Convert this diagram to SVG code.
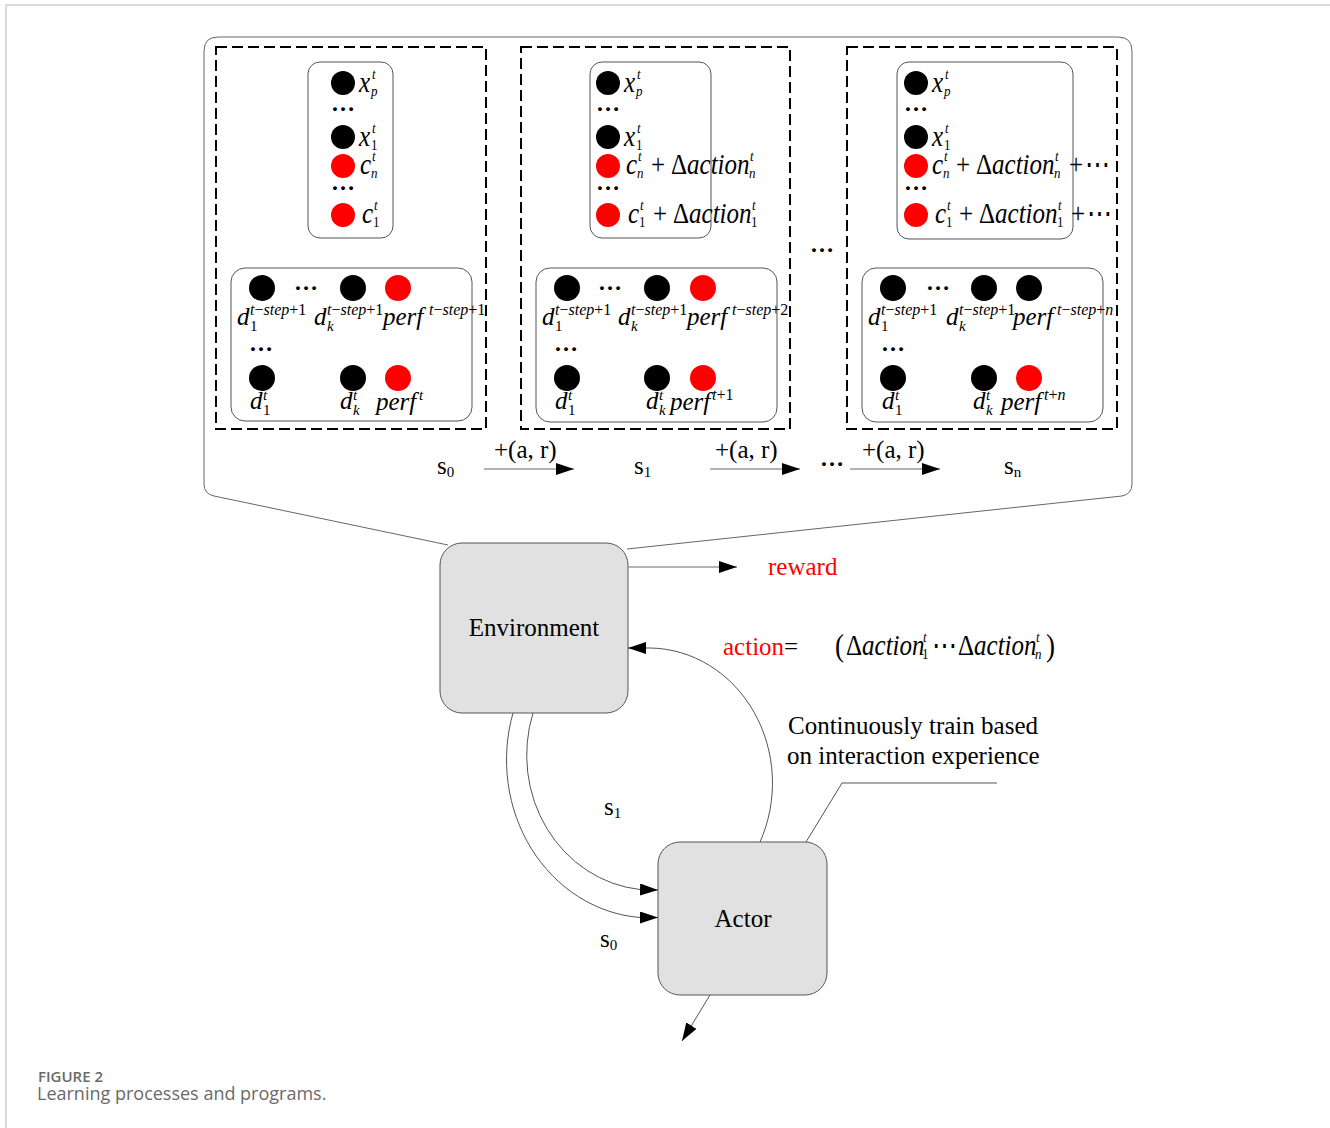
<svg xmlns="http://www.w3.org/2000/svg" width="1330" height="1128" viewBox="0 0 1330 1128">
<style>
.m{font-family:"Liberation Serif","DejaVu Serif",serif;font-style:italic;font-size:25px;fill:#000}
.u{font-style:normal}
.s{font-size:15px}
.q{font-size:13px}
.sp{font-size:16px}
.t{font-family:"Liberation Serif","DejaVu Serif",serif;font-size:25px;fill:#000}
.red{fill:#ff0000}
.dots{font-family:"Liberation Serif",serif;font-size:24px;font-weight:bold;fill:#000}
.dash{fill:none;stroke:#000;stroke-width:2;stroke-dasharray:11 5}
.ibox{fill:#fff;stroke:#555;stroke-width:1}
.node{fill:#e1e1e1;stroke:#555;stroke-width:1}
.bk{fill:#000}
.rd{fill:#ff0000}
.ln{fill:none;stroke:#555;stroke-width:1}
.ga{fill:none;stroke:#999;stroke-width:1.5}
.cap{font-family:"Open Sans","Liberation Sans",sans-serif;fill:#6a6a6a}
</style>
<defs>
<marker id="ah" viewBox="0 0 18 12" refX="18" refY="6" markerWidth="18" markerHeight="12" markerUnits="userSpaceOnUse" orient="auto">
<path d="M0,0 L18,6 L0,12 z" fill="#000"/>
</marker>
</defs>
<rect width="1330" height="1128" fill="#fff"/>
<path d="M6,1128 V5 H1330" fill="none" stroke="#d0d0d0" stroke-width="1.5"/>

<g id="callout">
<path d="M448,545 L214,496 Q204,494 204,484 V51 Q204,37 218,37 H1118 Q1132,37 1132,51 V484 Q1132,494 1122,496 L627,549" fill="none" stroke="#666" stroke-width="1"/>
</g>

<g id="state0">
<rect class="dash" x="216" y="47" width="270" height="382"/>
<rect class="ibox" x="308" y="62" width="85" height="176" rx="12"/>
<circle class="bk" cx="343" cy="83" r="12"/>
<circle class="bk" cx="343" cy="137" r="12"/>
<circle class="rd" cx="343" cy="166" r="12"/>
<circle class="rd" cx="343" cy="215" r="12"/>
<text class="dots" x="331" y="111">…</text>
<text class="dots" x="331" y="190">…</text>
<text class="m" x="359" y="92" transform="matrix(1 0 0 1.2 0 -18.4)">x<tspan class="q" x="372" y="81.2">t</tspan><tspan class="q" x="371" y="95.3">p</tspan></text>
<text class="m" x="359" y="146" transform="matrix(1 0 0 1.2 0 -29.2)">x<tspan class="q" x="372" y="135.2">t</tspan><tspan class="q u" x="371" y="149.3">1</tspan></text>
<text class="m" x="360" y="174" transform="matrix(1 0 0 1.2 0 -34.8)">c<tspan class="q" x="372" y="163.2">t</tspan><tspan class="q" x="371" y="177.3">n</tspan></text>
<text class="m" x="362" y="223" transform="matrix(1 0 0 1.2 0 -44.6)">c<tspan class="q" x="374" y="212.2">t</tspan><tspan class="q u" x="373" y="226.3">1</tspan></text>
<rect class="ibox" x="231" y="268" width="241" height="153" rx="14"/>
<circle class="bk" cx="262" cy="288" r="13"/>
<circle class="bk" cx="353" cy="288" r="13"/>
<circle class="rd" cx="398" cy="288" r="13"/>
<circle class="bk" cx="262" cy="378" r="13"/>
<circle class="bk" cx="353" cy="378" r="13"/>
<circle class="rd" cx="398" cy="378" r="13"/>
<text class="dots" x="294" y="290">…</text>
<text class="dots" x="249" y="351">…</text>
<text class="m" x="237" y="325">d<tspan class="sp" x="250" y="315">t<tspan class="u">−</tspan>step<tspan class="u">+1</tspan></tspan><tspan class="s u" x="250" y="331">1</tspan></text>
<text class="m" x="314" y="325">d<tspan class="sp" x="327" y="315">t<tspan class="u">−</tspan>step<tspan class="u">+1</tspan></tspan><tspan class="s" x="327" y="331">k</tspan></text>
<text class="m" x="383" y="325">perf<tspan class="sp" x="429" y="315">t<tspan class="u">−</tspan>step<tspan class="u">+1</tspan></tspan></text>
<text class="m" x="250" y="409">d<tspan class="s" x="263" y="400">t</tspan><tspan class="s u" x="263" y="415">1</tspan></text>
<text class="m" x="340" y="409">d<tspan class="s" x="353" y="400">t</tspan><tspan class="s" x="353" y="415">k</tspan></text>
<text class="m" x="376" y="410">perf<tspan class="s" x="419" y="400">t</tspan></text>
</g>

<g id="state1">
<rect class="dash" x="521" y="47" width="269" height="382"/>
<rect class="ibox" x="590" y="62" width="121" height="176" rx="12"/>
<circle class="bk" cx="608" cy="83" r="12"/>
<circle class="bk" cx="608" cy="137" r="12"/>
<circle class="rd" cx="608" cy="166" r="12"/>
<circle class="rd" cx="608" cy="215" r="12"/>
<text class="dots" x="596" y="111">…</text>
<text class="dots" x="596" y="190">…</text>
<text class="m" x="624" y="92" transform="matrix(1 0 0 1.2 0 -18.4)">x<tspan class="q" x="637" y="81.2">t</tspan><tspan class="q" x="636" y="95.3">p</tspan></text>
<text class="m" x="624" y="146" transform="matrix(1 0 0 1.2 0 -29.2)">x<tspan class="q" x="637" y="135.2">t</tspan><tspan class="q u" x="636" y="149.3">1</tspan></text>
<text class="m" x="626" y="174" transform="matrix(1 0 0 1.2 0 -34.8)">c<tspan class="q" x="638" y="163.2">t</tspan><tspan class="q" x="637" y="177.3">n</tspan><tspan class="u" x="651" y="174">+</tspan><tspan class="u" x="671">Δ</tspan><tspan>action</tspan><tspan class="q" x="750" y="163.2">t</tspan><tspan class="q" x="749" y="177.3">n</tspan></text>
<text class="m" x="628" y="223" transform="matrix(1 0 0 1.2 0 -44.6)">c<tspan class="q" x="640" y="212.2">t</tspan><tspan class="q u" x="639" y="226.3">1</tspan><tspan class="u" x="653" y="223">+</tspan><tspan class="u" x="673">Δ</tspan><tspan>action</tspan><tspan class="q" x="752" y="212.2">t</tspan><tspan class="q u" x="751" y="226.3">1</tspan></text>
<rect class="ibox" x="536" y="268" width="241" height="154" rx="14"/>
<circle class="bk" cx="567" cy="288" r="13"/>
<circle class="bk" cx="657" cy="288" r="13"/>
<circle class="rd" cx="703" cy="288" r="13"/>
<circle class="bk" cx="567" cy="378" r="13"/>
<circle class="bk" cx="657" cy="378" r="13"/>
<circle class="rd" cx="703" cy="378" r="13"/>
<text class="dots" x="598" y="290">…</text>
<text class="dots" x="554" y="351">…</text>
<text class="m" x="542" y="325">d<tspan class="sp" x="555" y="315">t<tspan class="u">−</tspan>step<tspan class="u">+1</tspan></tspan><tspan class="s u" x="555" y="331">1</tspan></text>
<text class="m" x="618" y="325">d<tspan class="sp" x="631" y="315">t<tspan class="u">−</tspan>step<tspan class="u">+1</tspan></tspan><tspan class="s" x="631" y="331">k</tspan></text>
<text class="m" x="687" y="325">perf<tspan class="sp" x="732" y="315">t<tspan class="u">−</tspan>step<tspan class="u">+2</tspan></tspan></text>
<text class="m" x="555" y="409">d<tspan class="s" x="568" y="400">t</tspan><tspan class="s u" x="568" y="415">1</tspan></text>
<text class="m" x="646" y="409">d<tspan class="s" x="659" y="400">t</tspan><tspan class="s" x="659" y="415">k</tspan></text>
<text class="m" x="670" y="410">perf<tspan class="sp" x="712" y="400">t<tspan class="u">+1</tspan></tspan></text>
</g>

<g id="stateN">
<rect class="dash" x="847" y="47" width="270" height="382"/>
<rect class="ibox" x="897" y="62" width="176" height="177" rx="12"/>
<circle class="bk" cx="916" cy="83" r="12"/>
<circle class="bk" cx="916" cy="137" r="12"/>
<circle class="rd" cx="916" cy="166" r="12"/>
<circle class="rd" cx="916" cy="215" r="12"/>
<text class="dots" x="904" y="111">…</text>
<text class="dots" x="904" y="190">…</text>
<text class="m" x="932" y="92" transform="matrix(1 0 0 1.2 0 -18.4)">x<tspan class="q" x="945" y="81.2">t</tspan><tspan class="q" x="944" y="95.3">p</tspan></text>
<text class="m" x="932" y="146" transform="matrix(1 0 0 1.2 0 -29.2)">x<tspan class="q" x="945" y="135.2">t</tspan><tspan class="q u" x="944" y="149.3">1</tspan></text>
<text class="m" x="932" y="174" transform="matrix(1 0 0 1.2 0 -34.8)">c<tspan class="q" x="944" y="163.2">t</tspan><tspan class="q" x="943" y="177.3">n</tspan><tspan class="u" x="956" y="174">+</tspan><tspan class="u" x="976">Δ</tspan><tspan>action</tspan><tspan class="q" x="1055" y="163.2">t</tspan><tspan class="q" x="1054" y="177.3">n</tspan><tspan class="u" x="1069" y="174">+</tspan><tspan class="u" x="1085">⋯</tspan></text>
<text class="m" x="935" y="223" transform="matrix(1 0 0 1.2 0 -44.6)">c<tspan class="q" x="947" y="212.2">t</tspan><tspan class="q u" x="946" y="226.3">1</tspan><tspan class="u" x="959" y="223">+</tspan><tspan class="u" x="979">Δ</tspan><tspan>action</tspan><tspan class="q" x="1058" y="212.2">t</tspan><tspan class="q u" x="1057" y="226.3">1</tspan><tspan class="u" x="1071" y="223">+</tspan><tspan class="u" x="1087">⋯</tspan></text>
<rect class="ibox" x="862" y="268" width="241" height="154" rx="14"/>
<circle class="bk" cx="893" cy="288" r="13"/>
<circle class="bk" cx="984" cy="288" r="13"/>
<circle class="bk" cx="1029" cy="288" r="13"/>
<circle class="bk" cx="893" cy="378" r="13"/>
<circle class="bk" cx="984" cy="378" r="13"/>
<circle class="rd" cx="1029" cy="378" r="13"/>
<text class="dots" x="926" y="290">…</text>
<text class="dots" x="881" y="351">…</text>
<text class="m" x="868" y="325">d<tspan class="sp" x="881" y="315">t<tspan class="u">−</tspan>step<tspan class="u">+1</tspan></tspan><tspan class="s u" x="881" y="331">1</tspan></text>
<text class="m" x="946" y="325">d<tspan class="sp" x="959" y="315">t<tspan class="u">−</tspan>step<tspan class="u">+1</tspan></tspan><tspan class="s" x="959" y="331">k</tspan></text>
<text class="m" x="1013" y="325">perf<tspan class="sp" x="1057" y="315">t<tspan class="u">−</tspan>step<tspan class="u">+</tspan>n</tspan></text>
<text class="m" x="882" y="409">d<tspan class="s" x="895" y="400">t</tspan><tspan class="s u" x="895" y="415">1</tspan></text>
<text class="m" x="973" y="409">d<tspan class="s" x="986" y="400">t</tspan><tspan class="s" x="986" y="415">k</tspan></text>
<text class="m" x="1001" y="410">perf<tspan class="sp" x="1044" y="400">t<tspan class="u">+</tspan>n</tspan></text>
</g>

<text class="dots" x="810" y="252">…</text>

<g id="seq">
<text class="t" x="437" y="474" font-size="22">s<tspan font-size="15" y="477">0</tspan></text>
<text class="t" x="634" y="474" font-size="22">s<tspan font-size="15" y="477">1</tspan></text>
<text class="t" x="1004" y="474" font-size="22">s<tspan font-size="15" y="477">n</tspan></text>
<text class="t" x="494" y="458">+(a, r)</text>
<text class="t" x="715" y="458">+(a, r)</text>
<text class="t" x="862" y="458">+(a, r)</text>
<text class="dots" x="820" y="466">…</text>
</g>

<g id="environment">
<rect class="node" x="440" y="543" width="188" height="170" rx="22"/>
<text class="t" x="534" y="636" text-anchor="middle">Environment</text>
</g>

<g id="actor">
<rect class="node" x="658" y="842" width="169" height="153" rx="22"/>
<text class="t" x="743" y="927" text-anchor="middle">Actor</text>
</g>

<g id="connectors">
<line class="ga" x1="484" y1="469" x2="574" y2="469" marker-end="url(#ah)"/>
<line class="ga" x1="710" y1="469" x2="800" y2="469" marker-end="url(#ah)"/>
<line class="ga" x1="850" y1="469" x2="940" y2="469" marker-end="url(#ah)"/>
<line class="ga" x1="628" y1="567" x2="737" y2="567" marker-end="url(#ah)"/>
<path class="ln" d="M760,842 A124,135 0 0 0 650,648 L628,648" marker-end="url(#ah)"/>
<path class="ln" d="M513,713 A144,158 0 0 0 640,917.5 L658,917.5" marker-end="url(#ah)"/>
<path class="ln" d="M533,713 A126,135 0 0 0 640,889.5 L658,890" marker-end="url(#ah)"/>
<line class="ln" x1="710" y1="995" x2="682" y2="1041" marker-end="url(#ah)"/>
<path class="ln" d="M806,842 L842,783 H997"/>
</g>

<g id="labels">
<text class="t red" x="768" y="575">reward</text>
<text class="t" x="723" y="655"><tspan class="red">action</tspan>=</text>
<text class="m" x="835" y="655" transform="matrix(1 0 0 1.2 0 -131)"><tspan class="u" font-size="27" y="656">(</tspan><tspan class="u" x="846" y="655">Δ</tspan><tspan>action</tspan><tspan class="q" x="923" y="644.2">t</tspan><tspan class="q u" x="922" y="658.3">1</tspan><tspan class="u" x="932" y="655">⋯</tspan><tspan class="u" x="958">Δ</tspan><tspan>action</tspan><tspan class="q" x="1036" y="644.2">t</tspan><tspan class="q" x="1035" y="658.3">n</tspan><tspan class="u" font-size="27" x="1046" y="656">)</tspan></text>
<text class="t" x="788" y="734" font-size="24">Continuously train based</text>
<text class="t" x="787" y="764" font-size="24">on interaction experience</text>
<text class="t" x="604" y="815" font-size="22">s<tspan font-size="15" y="818">1</tspan></text>
<text class="t" x="600" y="947" font-size="22">s<tspan font-size="15" y="950">0</tspan></text>
</g>

<g id="caption">
<text class="cap" x="38" y="1082" font-size="15" font-weight="600">FIGURE 2</text>
<text class="cap" x="37" y="1100" font-size="18">Learning processes and programs.</text>
</g>
</svg>
